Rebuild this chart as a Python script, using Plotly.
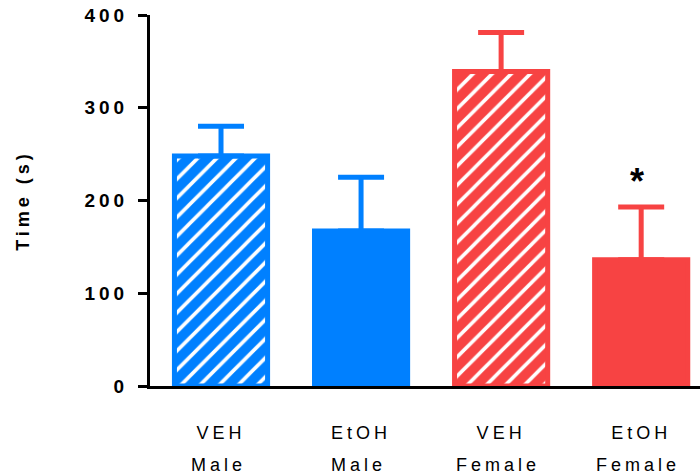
import plotly.graph_objects as go

# Group labels and measurements
treatment = ["VEH", "EtOH", "VEH", "EtOH"]
sex = ["Male", "Male", "Female", "Female"]
mean_time = [248, 167, 339, 136]
sem_time = [32, 58, 42, 57]
y_ticks = [0, 100, 200, 300, 400]

BLUE = "#0080FF"
RED = "#F74343"
colors = [BLUE, BLUE, RED, RED]
hatched = [True, False, True, False]

x = list(range(len(treatment)))
FONT = "Liberation Sans, Arial"

fig = go.Figure()
for i in x:
    col = colors[i]
    pattern = dict(shape="/", bgcolor=col, fgcolor="white", size=13.5, solidity=0.27,
                   fillmode="replace") if hatched[i] else dict(shape="")
    fig.add_trace(go.Bar(
        x=[i], y=[mean_time[i]], width=0.665,
        marker=dict(color=col, line=dict(color=col, width=5), pattern=pattern),
        error_y=dict(type="data", symmetric=False, array=[sem_time[i]], arrayminus=[0],
                     color=col, thickness=5, width=23),
        showlegend=False, hoverinfo="skip",
    ))


def spaced(txt, px=4):
    return "<span style='letter-spacing:%dpx'>%s</span>" % (px, txt)


# second line of the category labels (sex)
annotations = [
    dict(x=i, y=-0.212, xref="x", yref="paper", text=spaced(sex[i]),
         showarrow=False, yanchor="middle", xshift=-3,
         font=dict(family=FONT, size=18, color="black"))
    for i in x
]
# significance marker above the EtOH female bar
annotations.append(dict(
    x=3, y=mean_time[3] + sem_time[3] + 3, xref="x", yref="y", text="<b>*</b>",
    showarrow=False, yanchor="bottom", xshift=-4,
    font=dict(family=FONT, size=36, color="black")))

fig.update_layout(
    width=700, height=476,
    margin=dict(l=150, r=0, t=15, b=90),
    paper_bgcolor="white", plot_bgcolor="white",
    annotations=annotations,
    xaxis=dict(
        range=[-0.507, 3.42], tickvals=x,
        ticktext=[spaced(t) for t in treatment],
        showline=True, linecolor="black", linewidth=3,
        ticks="", showgrid=False, zeroline=False,
        tickfont=dict(family=FONT, size=18, color="black"),
        ticklabelstandoff=28,
    ),
    yaxis=dict(
        range=[0, 400], tickvals=y_ticks,
        ticktext=[spaced("<b>%d</b>" % v, 4) for v in y_ticks],
        showline=True, linecolor="black", linewidth=3,
        ticks="outside", ticklen=9, tickwidth=3, tickcolor="black",
        showgrid=False, zeroline=False, ticklabelstandoff=6,
        tickfont=dict(family=FONT, size=19, color="black"),
        title=dict(text=spaced("<b>Time (s)</b>", 4), standoff=51,
                   font=dict(family=FONT, size=18, color="black")),
    ),
)

fig.write_html("out.html")
